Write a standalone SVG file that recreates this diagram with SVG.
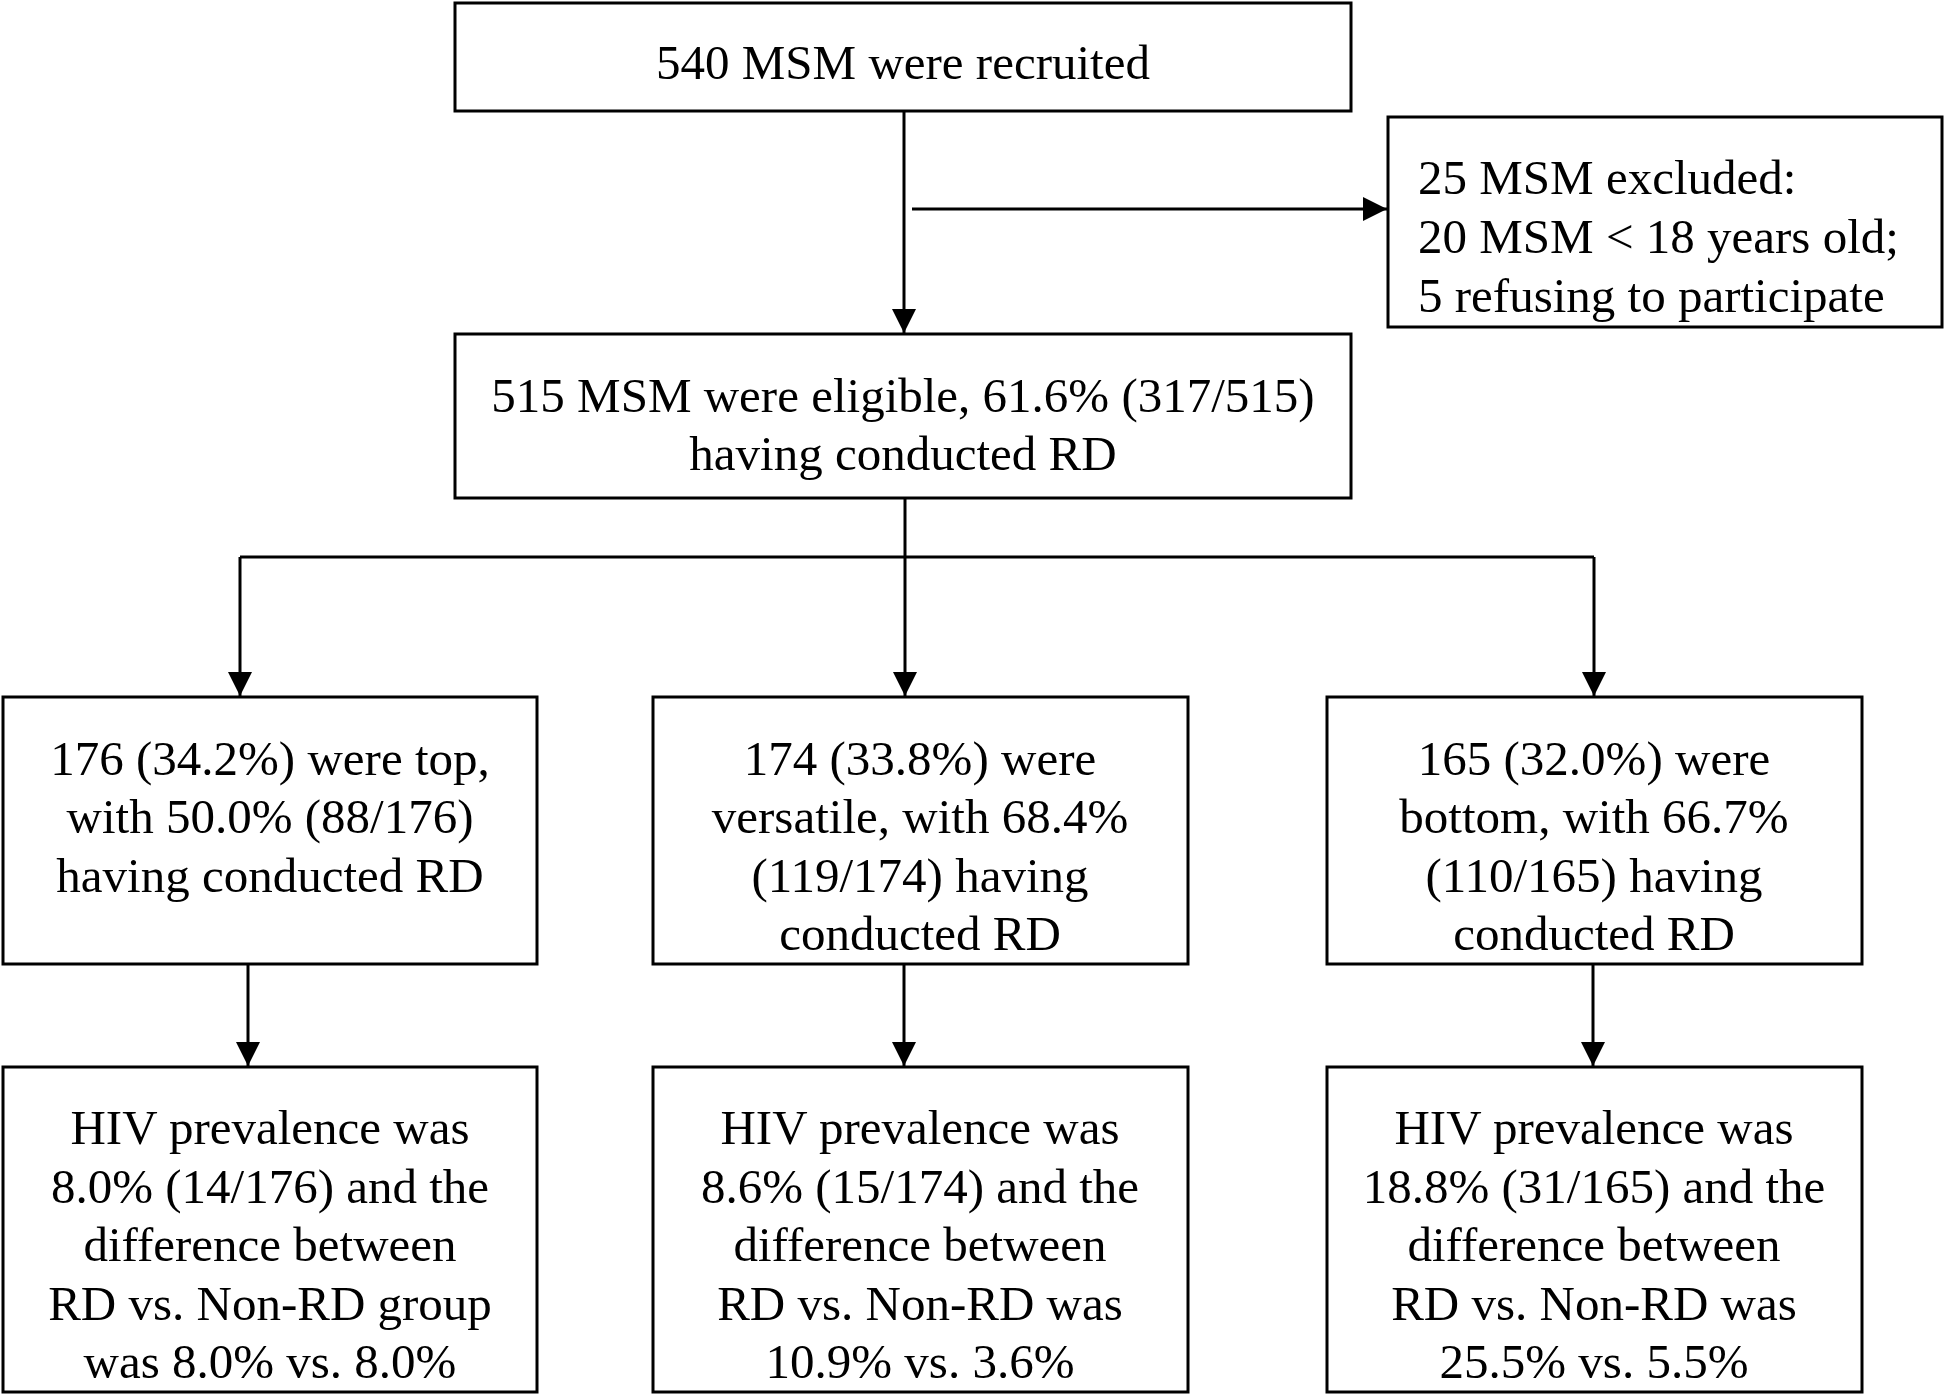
<svg xmlns="http://www.w3.org/2000/svg" width="1946" height="1396" viewBox="0 0 1946 1396">
<defs>
<style>
.box{fill:#fff;stroke:#000;stroke-width:3}
.t{font-family:"Liberation Serif","Times New Roman",serif;font-size:49px;fill:#000;text-anchor:middle}
.tl{font-family:"Liberation Serif","Times New Roman",serif;font-size:49px;fill:#000;text-anchor:start}
.c{fill:none;stroke:#000;stroke-width:3}
</style>
<marker id="arr" markerUnits="userSpaceOnUse" markerWidth="24" markerHeight="24" refX="24" refY="12" orient="auto">
<path d="M0,0 L24,12 L0,24 z" fill="#000"/>
</marker>
</defs>
<rect width="1946" height="1396" fill="#fff"/>
<g id="connectors">
<line class="c" x1="904" y1="111" x2="904" y2="333" marker-end="url(#arr)"/>
<line class="c" x1="912" y1="209" x2="1387" y2="209" marker-end="url(#arr)"/>
<line class="c" x1="905" y1="498" x2="905" y2="696" marker-end="url(#arr)"/>
<line class="c" x1="240" y1="557" x2="1594" y2="557"/>
<line class="c" x1="240" y1="557" x2="240" y2="696" marker-end="url(#arr)"/>
<line class="c" x1="1594" y1="557" x2="1594" y2="696" marker-end="url(#arr)"/>
<line class="c" x1="248" y1="964" x2="248" y2="1066" marker-end="url(#arr)"/>
<line class="c" x1="904" y1="964" x2="904" y2="1066" marker-end="url(#arr)"/>
<line class="c" x1="1593" y1="964" x2="1593" y2="1066" marker-end="url(#arr)"/>
</g>
<g id="recruited">
<rect class="box" x="455" y="3" width="896" height="108"/>
<text class="t" x="903" y="79">540 MSM were recruited</text>
</g>
<g id="excluded">
<rect class="box" x="1388" y="117" width="554" height="210"/>
<text class="tl" x="1418" y="194">25 MSM excluded:</text>
<text class="tl" x="1418" y="253">20 MSM &lt; 18 years old;</text>
<text class="tl" x="1418" y="312">5 refusing to participate</text>
</g>
<g id="eligible">
<rect class="box" x="455" y="334" width="896" height="164"/>
<text class="t" x="903" y="412">515 MSM were eligible, 61.6% (317/515)</text>
<text class="t" x="903" y="470">having conducted RD</text>
</g>
<g id="top">
<rect class="box" x="3" y="697" width="534" height="267"/>
<text class="t" x="270" y="775">176 (34.2%) were top,</text>
<text class="t" x="270" y="833">with 50.0% (88/176)</text>
<text class="t" x="270" y="892">having conducted RD</text>
</g>
<g id="versatile">
<rect class="box" x="653" y="697" width="535" height="267"/>
<text class="t" x="920" y="775">174 (33.8%) were</text>
<text class="t" x="920" y="833">versatile, with 68.4%</text>
<text class="t" x="920" y="892">(119/174) having</text>
<text class="t" x="920" y="950">conducted RD</text>
</g>
<g id="bottom">
<rect class="box" x="1327" y="697" width="535" height="267"/>
<text class="t" x="1594" y="775">165 (32.0%) were</text>
<text class="t" x="1594" y="833">bottom, with 66.7%</text>
<text class="t" x="1594" y="892">(110/165) having</text>
<text class="t" x="1594" y="950">conducted RD</text>
</g>
<g id="hiv-top">
<rect class="box" x="3" y="1067" width="534" height="325"/>
<text class="t" x="270" y="1144">HIV prevalence was</text>
<text class="t" x="270" y="1203">8.0% (14/176) and the</text>
<text class="t" x="270" y="1261">difference between</text>
<text class="t" x="270" y="1320">RD vs. Non-RD group</text>
<text class="t" x="270" y="1378">was 8.0% vs. 8.0%</text>
</g>
<g id="hiv-versatile">
<rect class="box" x="653" y="1067" width="535" height="325"/>
<text class="t" x="920" y="1144">HIV prevalence was</text>
<text class="t" x="920" y="1203">8.6% (15/174) and the</text>
<text class="t" x="920" y="1261">difference between</text>
<text class="t" x="920" y="1320">RD vs. Non-RD was</text>
<text class="t" x="920" y="1378">10.9% vs. 3.6%</text>
</g>
<g id="hiv-bottom">
<rect class="box" x="1327" y="1067" width="535" height="325"/>
<text class="t" x="1594" y="1144">HIV prevalence was</text>
<text class="t" x="1594" y="1203">18.8% (31/165) and the</text>
<text class="t" x="1594" y="1261">difference between</text>
<text class="t" x="1594" y="1320">RD vs. Non-RD was</text>
<text class="t" x="1594" y="1378">25.5% vs. 5.5%</text>
</g>
</svg>
